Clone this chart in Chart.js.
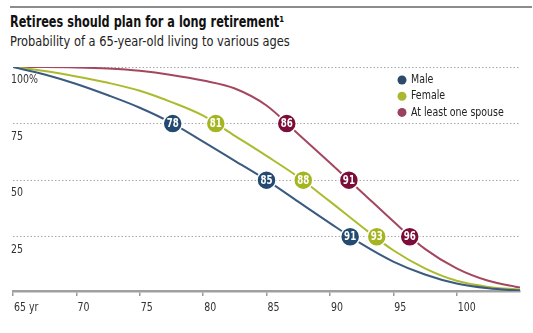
<!DOCTYPE html>
<html>
<head>
<meta charset="utf-8">
<script src="https://cdn.jsdelivr.net/npm/chart.js@4"></script>
<style>
  html, body { margin: 0; padding: 0; background: #fff; }
  body { width: 533px; height: 333px; position: relative; overflow: hidden;
         font-family: "Liberation Sans Narrow", "DejaVu Sans Condensed", "Roboto", sans-serif; }
  #rule { position: absolute; left: 10px; top: 6px; width: 522px; border-top: 2px solid #8c8c8c; }
  #title, #sub { position: absolute; left: 10px; white-space: nowrap; transform-origin: 0 0; }
  #title { top: 13px; font-size: 15.5px; font-weight: bold; color: #111; transform: scaleX(0.81); }
  #sub { top: 33px; font-size: 14.5px; color: #222; transform: scaleX(0.875); }
  #wrap { position: absolute; left: 0; top: 0; width: 533px; height: 333px; }
</style>
</head>
<body>
<div id="rule"></div>
<div id="title">Retirees should plan for a long retirement¹</div>
<div id="sub">Probability of a 65-year-old living to various ages</div>
<div id="wrap"><canvas id="myChart"></canvas></div>
<script>
// ---------- DATA ----------
const ages   = [65, 67.5, 70, 72.5, 75, 77.5, 80, 82.5, 85, 87.5, 90, 92.5, 95, 97.5, 100, 102.5, 105];
const male   = [100, 96.7, 92.5, 87.5, 82, 75.3, 67, 58.5, 50, 40.5, 31, 21.8, 14, 8.3, 4.3, 2.2, 1.2];
const female = [100, 98.2, 95.8, 93, 89.5, 84.5, 78.5, 69.6, 60.7, 51.4, 40.6, 29.5, 19, 11, 5.5, 2.8, 1.6];
const spouse = [100, 100, 99.8, 99.3, 98.3, 96.5, 94, 90.5, 83, 70.4, 57.7, 44.8, 31.8, 19.6, 11, 5.5, 2.5];

// marcadores: idade onde cruza 75 / 50 / 25 %
const markLevels    = [75, 50, 25];
const maleMarkAge   = [77.6, 85, 91.6];
const femaleMarkAge = [81, 87.9, 93.7];
const spouseMarkAge = [86.6, 91.5, 96.3];
const maleMarkTxt   = ['78', '85', '91'];
const femaleMarkTxt = ['81', '88', '93'];
const spouseMarkTxt = ['86', '91', '96'];

const xTicks = [65, 70, 75, 80, 85, 90, 95, 100];
const xTickLabels = ['65 yr', '70', '75', '80', '85', '90', '95', '100'];
const yTicks = [25, 50, 75, 100];
const yTickLabels = ['25', '50', '75', '100%'];
const seriesNames = ['Male', 'Female', 'At least one spouse'];

const FONT = '"Liberation Sans Narrow", "DejaVu Sans Condensed", Roboto, sans-serif';
const SX = 0.84; // aperta o texto (fonte condensada)
const lineColors = ['#3a5a80', '#abbb2e', '#a3475f'];
const markColors = ['#234a70', '#a5b522', '#7c0c38'];
const legendColors = ['#2c4a6b', '#a9b830', '#9a4060'];

const pts = (xs, ys) => xs.map((x, i) => ({ x, y: ys[i] }));

function lineDs(label, ys, color) {
  return {
    type: 'line', label, data: pts(ages, ys), borderColor: color, borderWidth: 2,
    pointRadius: 0, fill: false, cubicInterpolationMode: 'monotone', order: 2
  };
}
function markDs(label, xs, color, txt) {
  return {
    type: 'scatter', label, data: pts(xs, markLevels), backgroundColor: color,
    borderColor: '#ffffff', borderWidth: 1.5, pointRadius: 9.5, pointHoverRadius: 9.5,
    markText: txt, order: 1
  };
}

function narrowText(ctx, txt, x, y, align) {
  ctx.save();
  ctx.translate(x, y);
  ctx.scale(SX, 1);
  ctx.textAlign = align || 'left';
  ctx.fillText(txt, 0, 0);
  ctx.restore();
}

// ---------- plugin: rótulos, números nos marcadores, legenda ----------
const extras = {
  id: 'extras',
  afterDraw(chart) {
    const ctx = chart.ctx;
    const { x, y } = chart.scales;
    ctx.save();
    ctx.textBaseline = 'middle';
    // eixo y (rótulo abaixo da linha)
    ctx.fillStyle = '#333';
    ctx.font = '12.5px ' + FONT;
    yTicks.forEach((v, i) => narrowText(ctx, yTickLabels[i], 11, y.getPixelForValue(v) + 13));
    // eixo x
    xTicks.forEach((v, i) => narrowText(ctx, xTickLabels[i], x.getPixelForValue(v) + 1, y.bottom + 17));
    // números dentro dos círculos
    ctx.fillStyle = '#fff';
    ctx.font = 'bold 11.5px ' + FONT;
    chart.data.datasets.forEach((ds, i) => {
      if (!ds.markText) return;
      chart.getDatasetMeta(i).data.forEach((el, j) => narrowText(ctx, ds.markText[j], el.x, el.y + 0.5, 'center'));
    });
    // legenda
    ctx.font = '12.5px ' + FONT;
    seriesNames.forEach((n, i) => {
      const ly = 80 + i * 16.2;
      ctx.fillStyle = legendColors[i];
      ctx.beginPath(); ctx.arc(402, ly, 4.5, 0, Math.PI * 2); ctx.fill();
      ctx.fillStyle = '#222';
      narrowText(ctx, n, 411, ly);
    });
    ctx.restore();
  }
};

new Chart(document.getElementById('myChart'), {
  data: {
    datasets: [
      lineDs('Male', male, lineColors[0]),
      lineDs('Female', female, lineColors[1]),
      lineDs('At least one spouse', spouse, lineColors[2]),
      markDs('m', maleMarkAge, markColors[0], maleMarkTxt),
      markDs('f', femaleMarkAge, markColors[1], femaleMarkTxt),
      markDs('s', spouseMarkAge, markColors[2], spouseMarkTxt)
    ]
  },
  options: {
    responsive: true, maintainAspectRatio: false, animation: false,
    layout: { padding: { left: 13, right: 13, top: 67, bottom: 37 } },
    plugins: { legend: { display: false }, tooltip: { enabled: false } },
    scales: {
      x: {
        type: 'linear', min: 65, max: 105,
        afterBuildTicks: s => { s.ticks = xTicks.map(v => ({ value: v })); },
        grid: { drawOnChartArea: false, drawTicks: true, tickLength: 5, color: '#9a9a9a', lineWidth: 1.5 },
        border: { color: '#a0a0a0', width: 2.5 },
        ticks: { display: false }
      },
      y: {
        type: 'linear', min: 1, max: 100,
        afterBuildTicks: s => { s.ticks = yTicks.map(v => ({ value: v })); },
        grid: { drawTicks: false, color: '#a8a8a8', lineWidth: 1 },
        border: { display: false, dash: [1.5, 2] },
        ticks: { display: false }
      }
    }
  },
  plugins: [extras]
});
</script>
</body>
</html>
